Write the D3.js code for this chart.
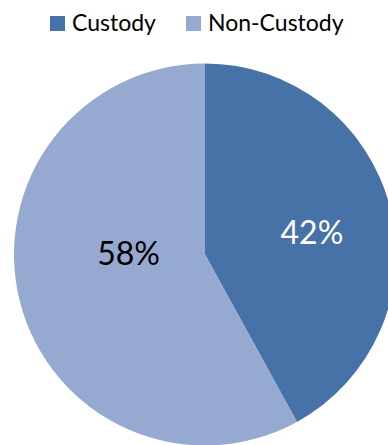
<!DOCTYPE html>
<html><head><meta charset="utf-8">
<script src="https://cdn.jsdelivr.net/npm/d3@7"></script>
<style>body{margin:0;background:#fff}svg{display:block}</style>
</head><body>
<script>
const categories = ["Custody", "Non-Custody"];
const values = [42, 58];
const labels = ["42%", "58%"];
const colors = ["#4672A8", "#95A9D1"];

const W = 388, H = 445;
const svg = d3.select("body").append("svg").attr("width", W).attr("height", H);
const cx = 205, cy = 254.5, r = 191;
// label placement offsets from pie centre, as fractions of radius (layout only)
const labelPos = [[0.56, -0.12], [-0.40, -0.01]];
const pie = d3.pie().sort(null).value(d => d.v);
const data = pie(categories.map((c, i) => ({c, v: values[i], i})));
const arc = d3.arc().innerRadius(0).outerRadius(r);
const g = svg.append("g").attr("transform", `translate(${cx},${cy})`);
g.selectAll("path").data(data).join("path")
  .attr("d", arc).attr("fill", d => colors[d.data.i]);
g.selectAll("text").data(data).join("text")
  .attr("x", d => labelPos[d.data.i][0] * r)
  .attr("y", d => labelPos[d.data.i][1] * r)
  .attr("text-anchor", "middle").attr("dominant-baseline", "central")
  .attr("font-family", "Lato, 'Open Sans', sans-serif").attr("font-size", 32)
  .attr("fill", d => d.data.i === 0 ? "#fff" : "#000")
  .text(d => labels[d.data.i]);

const leg = svg.append("g");
const legX = [50, 186];
categories.forEach((c, i) => {
  leg.append("rect").attr("x", legX[i]).attr("y", 16).attr("width", 15).attr("height", 15).attr("fill", colors[i]);
  leg.append("text").attr("x", legX[i] + 22).attr("y", 31)
    .attr("font-family", "Lato, 'Open Sans', sans-serif").attr("font-size", 23).attr("fill", "#000").text(c);
});
</script>
</body></html>
